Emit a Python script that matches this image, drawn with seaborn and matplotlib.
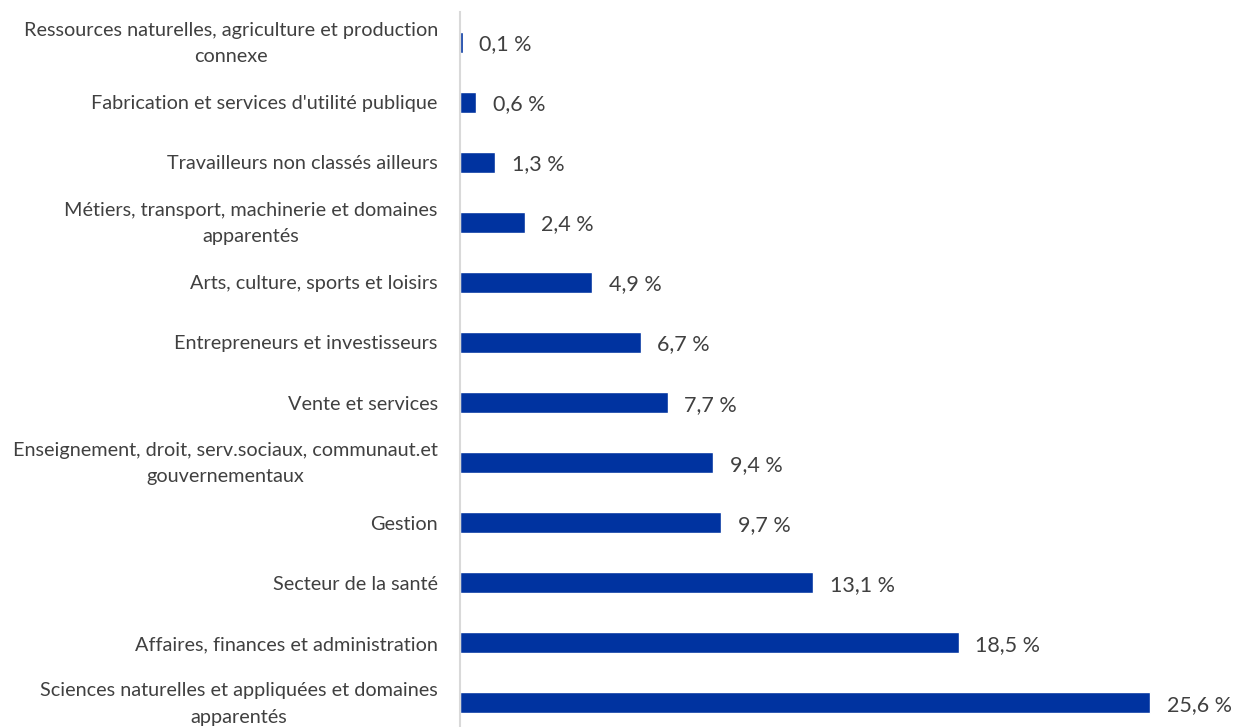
import matplotlib
matplotlib.use("Agg")
import matplotlib.pyplot as plt
import matplotlib.transforms as mtransforms
import seaborn as sns
import pandas as pd

categories = [
    "Ressources naturelles, agriculture et production\nconnexe",
    "Fabrication et services d'utilité publique",
    "Travailleurs non classés ailleurs",
    "Métiers, transport, machinerie et domaines\napparentés",
    "Arts, culture, sports et loisirs",
    "Entrepreneurs et investisseurs",
    "Vente et services",
    "Enseignement, droit, serv.sociaux, communaut.et\ngouvernementaux",
    "Gestion",
    "Secteur de la santé",
    "Affaires, finances et administration",
    "Sciences naturelles et appliquées et domaines\napparentés",
]
values = [0.1, 0.6, 1.3, 2.4, 4.9, 6.7, 7.7, 9.4, 9.7, 13.1, 18.5, 25.6]
value_labels = ["0,1 %", "0,6 %", "1,3 %", "2,4 %", "4,9 %", "6,7 %", "7,7 %",
                "9,4 %", "9,7 %", "13,1 %", "18,5 %", "25,6 %"]

df = pd.DataFrame({"categorie": categories, "part": values})

sns.set_theme(style="white")
plt.rcParams["font.family"] = ["Lato", "DejaVu Sans"]

W, H = 1246, 727
fig = plt.figure(figsize=(W / 100, H / 100), dpi=100)
ax = fig.add_axes([460 / W, 0, (W - 460) / W, 715 / H])

sns.barplot(data=df, y="categorie", x="part", orient="h", color="#0033A0",
            saturation=1, width=0.35, ax=ax)

ax.set_xlim(0, (W - 460) / 26.95)
ax.set_ylim(11.4, -0.5)
ax.set_xlabel("")
ax.set_ylabel("")
ax.set_xticks([])
for s in ["top", "right", "bottom"]:
    ax.spines[s].set_visible(False)
ax.spines["left"].set_color("#D9D9D9")
ax.spines["left"].set_linewidth(1.5)

ax.tick_params(axis="y", length=0, pad=16, labelsize=14.3, labelcolor="#404040")
# two-line labels: wider line gap, nudged up so they sit centred on the bar
lift = mtransforms.ScaledTranslation(0, 5 / 100, fig.dpi_scale_trans)
for lbl in ax.get_yticklabels():
    lbl.set_multialignment("center")
    if "\n" in lbl.get_text():
        lbl.set_linespacing(1.65)
        lbl.set_transform(lbl.get_transform() + lift)

for i, (v, t) in enumerate(zip(values, value_labels)):
    ax.annotate(t, xy=(v, i), xytext=(12, -1.5), textcoords="offset points",
                va="center", ha="left", fontsize=15.5, color="#404040")

fig.savefig("out.png", dpi=100)
